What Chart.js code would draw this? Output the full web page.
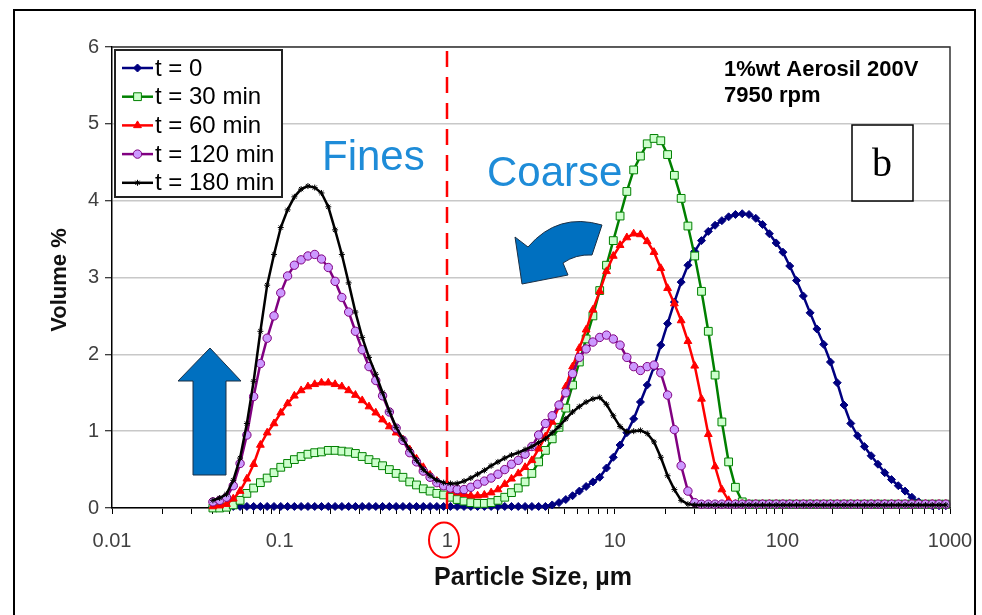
<!DOCTYPE html>
<html>
<head>
<meta charset="utf-8">
<script src="https://cdn.jsdelivr.net/npm/chart.js@4.4.1/dist/chart.umd.min.js"></script>
<style>
  html, body { margin: 0; padding: 0; background: #fff; }
  #wrap { width: 982px; height: 615px; }
</style>
</head>
<body>
<div id="wrap"><canvas id="psd" width="982" height="615"></canvas></div>
<script>
// size channels, um
var sizes = [
  0.0400, 0.0439, 0.0482, 0.0529, 0.0581, 0.0638, 0.0700, 0.0768, 0.0843, 0.0926,
  0.1016, 0.1116, 0.1225, 0.1344, 0.1476, 0.1620, 0.1778, 0.1952, 0.2143, 0.2352,
  0.2582, 0.2834, 0.3111, 0.3415, 0.3749, 0.4115, 0.4517, 0.4958, 0.5443, 0.5975,
  0.6559, 0.7200, 0.7903, 0.8675, 0.9522, 1.045, 1.147, 1.260, 1.383, 1.518,
  1.666, 1.829, 2.008, 2.204, 2.419, 2.655, 2.915, 3.200, 3.512, 3.855,
  4.232, 4.646, 5.100, 5.598, 6.145, 6.745, 7.404, 8.128, 8.922, 9.794,
  10.75, 11.80, 12.96, 14.22, 15.61, 17.14, 18.81, 20.65, 22.67, 24.88,
  27.31, 29.98, 32.91, 36.13, 39.66, 43.53, 47.78, 52.45, 57.58, 63.21,
  69.38, 76.16, 83.60, 91.77, 100.7, 110.6, 121.4, 133.3, 146.3, 160.6,
  176.3, 193.5, 212.4, 233.1, 255.9, 280.9, 308.4, 338.5, 371.6, 407.9,
  447.8, 491.5, 539.5, 592.3, 650.1, 713.7, 783.4, 859.9, 944.0
];

// volume % per channel
var vol_t0 = [
  0.02, 0.02, 0.02, 0.02, 0.02, 0.02, 0.02, 0.02, 0.02, 0.02,
  0.02, 0.02, 0.02, 0.02, 0.02, 0.02, 0.02, 0.02, 0.02, 0.02,
  0.02, 0.02, 0.02, 0.02, 0.02, 0.02, 0.02, 0.02, 0.02, 0.02,
  0.02, 0.02, 0.02, 0.02, 0.02, 0.02, 0.02, 0.02, 0.02, 0.02,
  0.02, 0.02, 0.02, 0.02, 0.02, 0.02, 0.02, 0.02, 0.02, 0.02,
  0.04, 0.07, 0.11, 0.16, 0.22, 0.28, 0.34, 0.40, 0.52, 0.66,
  0.82, 0.98, 1.16, 1.38, 1.60, 1.84, 2.12, 2.40, 2.68, 2.94,
  3.16, 3.34, 3.48, 3.60, 3.68, 3.74, 3.79, 3.82, 3.83, 3.82,
  3.77, 3.69, 3.57, 3.45, 3.33, 3.15, 2.96, 2.76, 2.54, 2.33,
  2.13, 1.90, 1.63, 1.34, 1.10, 0.94, 0.80, 0.68, 0.57, 0.46,
  0.37, 0.29, 0.22, 0.14, 0.08, 0.04, 0.03, 0.03, 0.03
];
var vol_t30 = [
  0.00, 0.00, 0.01, 0.04, 0.10, 0.19, 0.26, 0.33, 0.39, 0.46,
  0.53, 0.58, 0.63, 0.67, 0.70, 0.72, 0.73, 0.75, 0.75, 0.74,
  0.73, 0.71, 0.67, 0.63, 0.59, 0.55, 0.50, 0.45, 0.40, 0.34,
  0.30, 0.25, 0.22, 0.19, 0.17, 0.14, 0.11, 0.09, 0.07, 0.06,
  0.06, 0.07, 0.10, 0.14, 0.20, 0.26, 0.34, 0.45, 0.60, 0.75,
  0.90, 1.05, 1.30, 1.60, 1.90, 2.20, 2.50, 2.83, 3.16, 3.48,
  3.80, 4.12, 4.40, 4.58, 4.74, 4.81, 4.78, 4.60, 4.33, 4.03,
  3.67, 3.28, 2.82, 2.30, 1.73, 1.12, 0.60, 0.27, 0.08, 0.05,
  0.05, 0.05, 0.05, 0.05, 0.05, 0.05, 0.05, 0.05, 0.05, 0.05,
  0.05, 0.05, 0.05, 0.05, 0.05, 0.05, 0.05, 0.05, 0.05, 0.05,
  0.05, 0.05, 0.05, 0.05, 0.05, 0.05, 0.05, 0.05, 0.05
];
var vol_t60 = [
  0.02, 0.03, 0.05, 0.12, 0.22, 0.38, 0.57, 0.82, 0.98, 1.10,
  1.24, 1.36, 1.46, 1.53, 1.58, 1.61, 1.63, 1.63, 1.61, 1.58,
  1.53, 1.47, 1.40, 1.32, 1.24, 1.15, 1.06, 0.98, 0.89, 0.76,
  0.64, 0.53, 0.43, 0.35, 0.29, 0.23, 0.20, 0.18, 0.16, 0.16,
  0.17, 0.20, 0.24, 0.31, 0.38, 0.45, 0.53, 0.62, 0.77, 0.93,
  1.12, 1.32, 1.58, 1.84, 2.08, 2.32, 2.58, 2.82, 3.08, 3.28,
  3.42, 3.52, 3.57, 3.56, 3.47, 3.33, 3.12, 2.86, 2.66, 2.44,
  2.17, 1.85, 1.42, 0.96, 0.54, 0.24, 0.10, 0.05, 0.05, 0.05,
  0.05, 0.05, 0.05, 0.05, 0.05, 0.05, 0.05, 0.05, 0.05, 0.05,
  0.05, 0.05, 0.05, 0.05, 0.05, 0.05, 0.05, 0.05, 0.05, 0.05,
  0.05, 0.05, 0.05, 0.05, 0.05, 0.05, 0.05, 0.05, 0.05
];
var vol_t120 = [
  0.08, 0.10, 0.14, 0.29, 0.58, 0.95, 1.45, 1.88, 2.21, 2.50,
  2.80, 3.02, 3.16, 3.23, 3.28, 3.30, 3.24, 3.13, 2.95, 2.74,
  2.55, 2.30, 2.06, 1.84, 1.66, 1.46, 1.25, 1.04, 0.88, 0.72,
  0.60, 0.48, 0.40, 0.33, 0.29, 0.26, 0.24, 0.24, 0.27, 0.31,
  0.35, 0.39, 0.44, 0.50, 0.57, 0.62, 0.70, 0.80, 0.95, 1.10,
  1.20, 1.34, 1.50, 1.75, 1.96, 2.07, 2.16, 2.22, 2.25, 2.20,
  2.12, 1.96, 1.84, 1.79, 1.84, 1.86, 1.76, 1.47, 1.02, 0.55,
  0.22, 0.07, 0.05, 0.05, 0.05, 0.05, 0.05, 0.05, 0.05, 0.05,
  0.05, 0.05, 0.05, 0.05, 0.05, 0.05, 0.05, 0.05, 0.05, 0.05,
  0.05, 0.05, 0.05, 0.05, 0.05, 0.05, 0.05, 0.05, 0.05, 0.05,
  0.05, 0.05, 0.05, 0.05, 0.05, 0.05, 0.05, 0.05, 0.05
];
var vol_t180 = [
  0.10, 0.13, 0.18, 0.36, 0.65, 1.10, 1.65, 2.30, 2.90, 3.30,
  3.65, 3.88, 4.05, 4.15, 4.19, 4.17, 4.10, 3.92, 3.62, 3.30,
  2.93, 2.55, 2.22, 1.96, 1.74, 1.50, 1.26, 1.05, 0.90, 0.76,
  0.62, 0.50, 0.42, 0.36, 0.33, 0.32, 0.32, 0.35, 0.39, 0.44,
  0.49, 0.55, 0.60, 0.65, 0.69, 0.72, 0.76, 0.80, 0.85, 0.90,
  0.98, 1.06, 1.16, 1.25, 1.32, 1.38, 1.42, 1.44, 1.35, 1.20,
  1.06, 0.99, 1.00, 1.01, 0.97, 0.86, 0.66, 0.42, 0.24, 0.10,
  0.05, 0.04, 0.04, 0.04, 0.04, 0.04, 0.04, 0.04, 0.04, 0.04,
  0.04, 0.04, 0.04, 0.04, 0.04, 0.04, 0.04, 0.04, 0.04, 0.04,
  0.04, 0.04, 0.04, 0.04, 0.04, 0.04, 0.04, 0.04, 0.04, 0.04,
  0.04, 0.04, 0.04, 0.04, 0.04, 0.04, 0.04, 0.04, 0.04
];

var seriesLabels = ['t = 0', 't = 30 min', 't = 60 min', 't = 120 min', 't = 180 min'];
var decadeTicks = [0.01, 0.1, 1, 10, 100, 1000];
var yTicks = [0, 1, 2, 3, 4, 5, 6];

var SANS = '"Liberation Sans", Arial, sans-serif';

const toPoints = (vals) => vals.map((v, i) => ({ x: sizes[i], y: v }));

const makeSet = (label, vals, line, fill, style, radius, order) => ({
  label: label,
  data: toPoints(vals),
  borderColor: line,
  backgroundColor: fill,
  borderWidth: 2.5,
  pointStyle: style,
  pointRadius: radius,
  pointBorderColor: line,
  pointBackgroundColor: fill,
  pointBorderWidth: 1,
  tension: 0,
  order: order,
  clip: 6
});

var datasets = [
  makeSet(seriesLabels[0], vol_t0, '#000080', '#000080', 'rectRot', 4, 4),
  makeSet(seriesLabels[1], vol_t30, '#008000', '#CCFFCC', 'rect', 5.5, 3),
  makeSet(seriesLabels[2], vol_t60, '#FF0000', '#FF0000', 'triangle', 4.5, 2),
  makeSet(seriesLabels[3], vol_t120, '#800080', '#CC99FF', 'circle', 4.2, 1),
  makeSet(seriesLabels[4], vol_t180, '#000000', '#000000', 'star', 3, 0)
];

const drawMarker = (ctx, ds, x, y) => {
  ctx.fillStyle = ds.pointBackgroundColor;
  ctx.strokeStyle = ds.pointBorderColor;
  ctx.lineWidth = ds.pointBorderWidth;
  Chart.helpers.drawPoint(ctx, {
    pointStyle: ds.pointStyle, rotation: 0, radius: ds.pointRadius, borderWidth: ds.pointBorderWidth
  }, x, y);
};

// shapes and text laid over the plot
var overlay = {
  id: 'overlay',
  afterDatasetsDraw: (chart) => {
    const ctx = chart.ctx, a = chart.chartArea, xs = chart.scales.x;
    ctx.save();

    // plot area border (top / right)
    ctx.strokeStyle = '#333';
    ctx.lineWidth = 1.5;
    ctx.beginPath();
    ctx.moveTo(a.left, a.top);
    ctx.lineTo(a.right, a.top);
    ctx.lineTo(a.right, a.bottom);
    ctx.stroke();

    // fines / coarse split at 1 um
    const x1 = Math.round(xs.getPixelForValue(1));
    ctx.strokeStyle = '#FF0000';
    ctx.lineWidth = 2.5;
    ctx.setLineDash([16, 10]);
    ctx.beginPath();
    ctx.moveTo(x1, a.top + 4);
    ctx.lineTo(x1, a.bottom + 8);
    ctx.stroke();
    ctx.setLineDash([]);
    ctx.lineWidth = 2;
    ctx.beginPath();
    ctx.ellipse(x1 - 3, 540, 15, 17.5, 0, 0, Math.PI * 2);
    ctx.stroke();

    // up arrow
    ctx.fillStyle = '#0070C0';
    ctx.strokeStyle = '#1b2f45';
    ctx.lineWidth = 1;
    ctx.beginPath();
    ctx.moveTo(193, 475);
    ctx.lineTo(193, 381);
    ctx.lineTo(178, 381);
    ctx.lineTo(210, 348);
    ctx.lineTo(241, 381);
    ctx.lineTo(226, 381);
    ctx.lineTo(226, 475);
    ctx.closePath();
    ctx.fill();
    ctx.stroke();

    // curved arrow
    ctx.beginPath();
    ctx.moveTo(515, 237);
    ctx.lineTo(528, 247);
    ctx.quadraticCurveTo(558, 212, 602, 225);
    ctx.lineTo(592, 255);
    ctx.quadraticCurveTo(576, 254, 563, 263);
    ctx.lineTo(568, 275);
    ctx.lineTo(522, 284);
    ctx.closePath();
    ctx.fill();
    ctx.stroke();

    // region labels
    ctx.fillStyle = '#1E8CD8';
    ctx.textBaseline = 'alphabetic';
    ctx.textAlign = 'left';
    ctx.font = '42px ' + SANS;
    ctx.fillText('Fines', 322, 170);
    ctx.fillText('Coarse', 487, 186);

    // conditions
    ctx.fillStyle = '#000';
    ctx.font = 'bold 22px ' + SANS;
    ctx.fillText('1%wt Aerosil 200V', 724, 76);
    ctx.fillText('7950 rpm', 724, 102);

    // panel letter
    ctx.fillStyle = '#fff';
    ctx.fillRect(852, 125, 61, 76);
    ctx.strokeStyle = '#000';
    ctx.lineWidth = 1.5;
    ctx.strokeRect(852, 125, 61, 76);
    ctx.fillStyle = '#000';
    ctx.textAlign = 'center';
    ctx.font = '40px "Liberation Serif", "Times New Roman", serif';
    ctx.fillText('b', 882, 176);

    // legend
    ctx.fillStyle = '#fff';
    ctx.fillRect(115, 50, 167, 147);
    ctx.strokeStyle = '#222';
    ctx.lineWidth = 2;
    ctx.strokeRect(115, 50, 167, 147);
    ctx.textAlign = 'left';
    ctx.textBaseline = 'middle';
    ctx.font = '24px ' + SANS;
    chart.data.datasets.forEach((ds, i) => {
      const y = 68 + i * 28.7;
      ctx.strokeStyle = ds.borderColor;
      ctx.lineWidth = 2.5;
      ctx.beginPath();
      ctx.moveTo(122, y);
      ctx.lineTo(153, y);
      ctx.stroke();
      drawMarker(ctx, ds, 137.5, y);
      ctx.fillStyle = '#000';
      ctx.fillText(ds.label, 155, y + 1);
    });

    // axis titles
    ctx.fillStyle = '#111';
    ctx.font = 'bold 25px ' + SANS;
    ctx.textAlign = 'center';
    ctx.fillText('Particle Size, µm', 533, 578);
    ctx.save();
    ctx.translate(60, 280);
    ctx.rotate(-Math.PI / 2);
    ctx.font = 'bold 22px ' + SANS;
    ctx.fillText('Volume %', 0, 0);
    ctx.restore();

    // outer frame
    ctx.strokeStyle = '#000';
    ctx.lineWidth = 2;
    ctx.strokeRect(14, 10, 961, 620);

    ctx.restore();
  }
};

new Chart(document.getElementById('psd'), {
  type: 'line',
  data: { datasets: datasets },
  options: {
    responsive: false,
    animation: false,
    events: [],
    layout: { padding: { top: 47, right: 32, left: 0, bottom: 0 } },
    plugins: {
      legend: { display: false },
      tooltip: { enabled: false },
      title: { display: false }
    },
    scales: {
      x: {
        type: 'logarithmic',
        min: 0.01,
        max: 1000,
        afterBuildTicks: (scale) => {
          const t = [];
          decadeTicks.forEach((d, k) => {
            t.push({ value: d, major: true });
            if (k < decadeTicks.length - 1) {
              for (let m = 2; m <= 9; m++) t.push({ value: d * m });
            }
          });
          scale.ticks = t;
        },
        afterFit: (scale) => {
          scale.height = 107;
          scale.paddingLeft = 0;
          scale.paddingRight = 0;
        },
        ticks: {
          autoSkip: false,
          maxRotation: 0,
          padding: 15,
          color: '#404040',
          font: { family: SANS, size: 20 },
          callback: (v) => decadeTicks.indexOf(v) >= 0 ? String(v) : ''
        },
        grid: { drawOnChartArea: false, drawTicks: true, tickLength: 6, tickColor: '#000', tickWidth: 1 },
        border: { color: '#000', width: 1.5 }
      },
      y: {
        min: 0,
        max: 6,
        afterBuildTicks: (scale) => { scale.ticks = yTicks.map((v) => ({ value: v })); },
        afterFit: (scale) => { scale.width = 112; },
        ticks: {
          padding: 6,
          color: '#404040',
          font: { family: SANS, size: 20 }
        },
        grid: { color: '#C8C8C8', lineWidth: 1.5, tickLength: 7, tickColor: '#000', tickWidth: 1 },
        border: { color: '#000', width: 1.5 }
      }
    }
  },
  plugins: [overlay]
});
</script>
</body>
</html>
